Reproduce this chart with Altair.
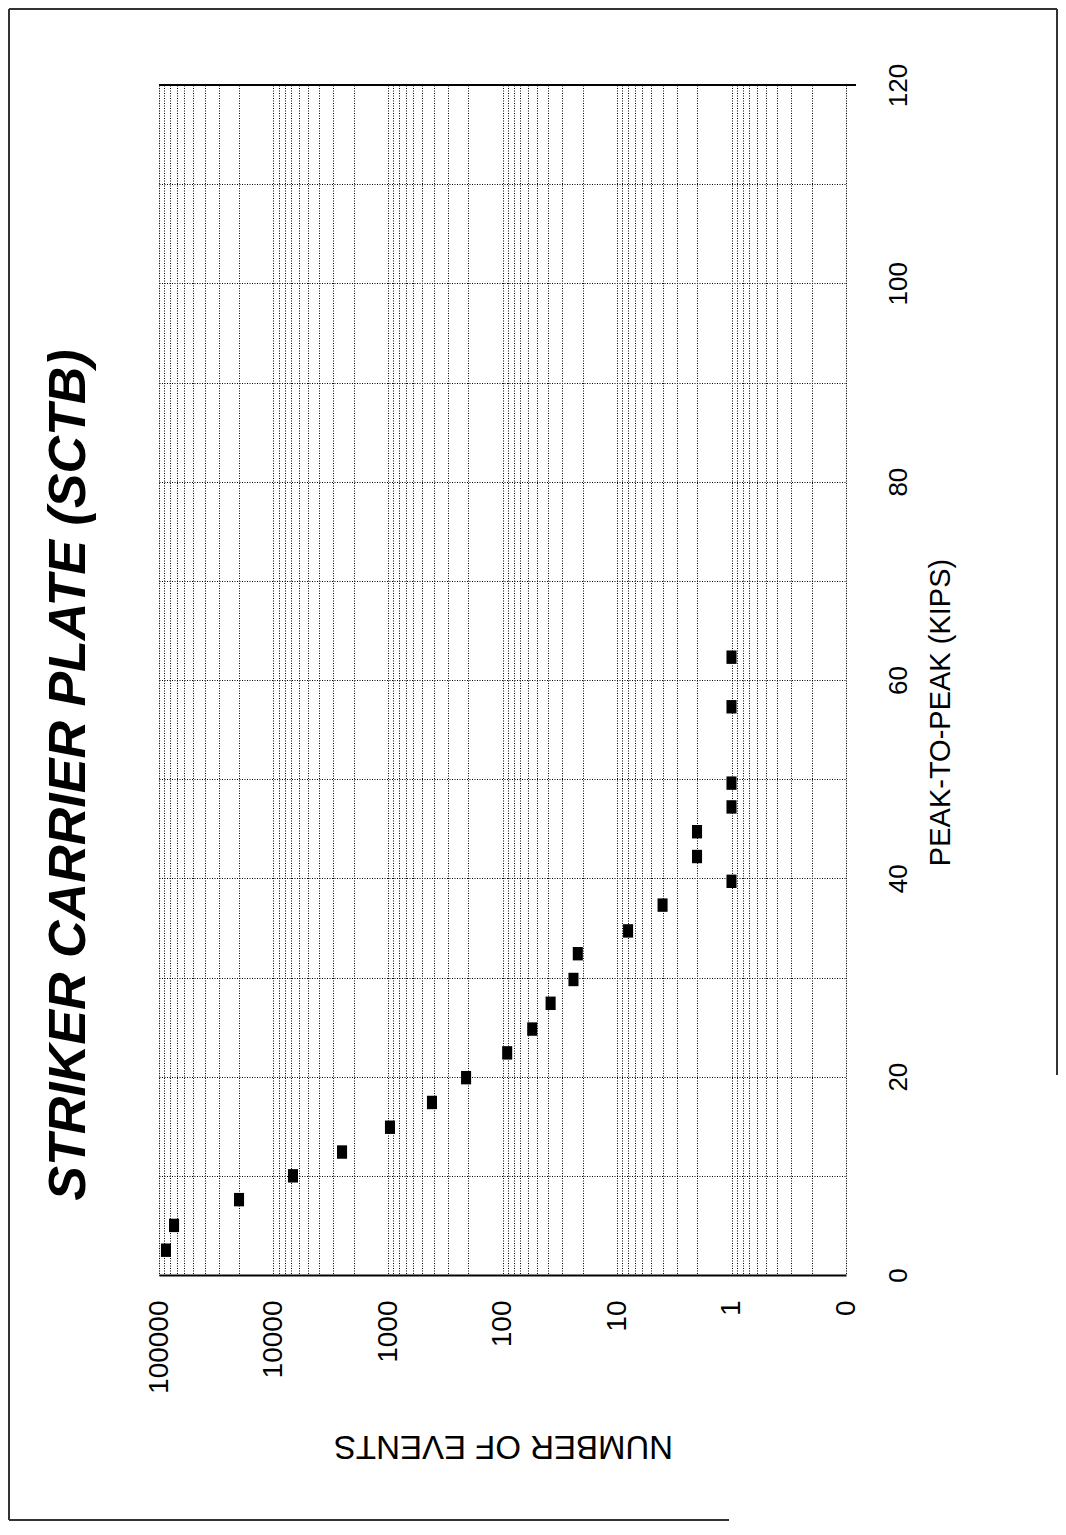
import altair as alt
import pandas as pd

# ---- data ----
peak_kips = [2.5, 5.0, 7.6, 10.0, 12.4, 14.9, 17.4, 19.9, 22.4, 24.8, 27.4,
             29.8, 32.4, 34.7, 37.3, 39.7, 42.2, 44.7, 47.2, 49.6, 57.3, 62.3]
num_events = [86900, 73900, 20000, 6760, 2520, 961, 413, 208, 91, 55, 38,
              24, 22, 8, 4, 1, 2, 2, 1, 1, 1, 1]

event_ticks = [round(k * 10 ** d, 6) for d in range(-1, 5) for k in range(1, 10)] + [100000]
peak_ticks = list(range(0, 121, 10))

chart_title = "STRIKER CARRIER PLATE (SCTB)"
x_title = "PEAK-TO-PEAK (KIPS)"
y_title = "NUMBER OF EVENTS"

W, H = 687, 1190
FONT = "Liberation Sans, Arial"

df = pd.DataFrame({"peak": peak_kips, "events": num_events})

xscale = alt.Scale(type="log", domain=[0.1, 100000], reverse=True, nice=False)
yscale = alt.Scale(domain=[0, 120], nice=False)

x_axis = alt.Axis(
    values=event_ticks,
    labelExpr="(datum.value > 0.05 && datum.value < 0.15) ? '0' : (indexof([1,10,100,1000,10000,100000], datum.value) >= 0 ? format(datum.value, 'd') : '')",
    labelAngle=270, labelAlign="right", labelBaseline="middle", labelPadding=25,
    labelFontSize=28, labelFont=FONT, labelColor="black",
    labelOverlap=False, labelFlush=False,
    ticks=False, domain=True, domainColor="black", domainWidth=2,
    grid=True, gridColor="black", gridDash=[1, 1.5], gridWidth=1, gridOpacity=1,
    title=y_title, titleAngle=180, titleX=344, titleY=170,
    titleAlign="center", titleBaseline="middle", titleFontSize=33,
    titleFontWeight="normal", titleFont=FONT, titleColor="black",
)

y_axis = alt.Axis(
    orient="right", values=peak_ticks,
    labelExpr="datum.value % 20 == 0 ? datum.label : ''",
    labelAngle=270, labelAlign="center", labelBaseline="middle", labelPadding=52,
    labelFontSize=26, labelFont=FONT, labelColor="black",
    labelOverlap=False, labelFlush=False,
    ticks=False, domain=False,
    grid=True, gridColor="black", gridDash=[1, 1.5], gridWidth=1, gridOpacity=1,
    title=x_title, titleAngle=270, titleX=94, titleY=627,
    titleAlign="center", titleBaseline="middle", titleFontSize=29,
    titleFontWeight="normal", titleFont=FONT, titleColor="black",
)

points = alt.Chart(df).mark_point(
    shape="M-0.75,-1H0.75V1H-0.75Z", filled=True, color="black", opacity=1, size=180
).encode(
    x=alt.X("events:Q", scale=xscale, axis=x_axis),
    y=alt.Y("peak:Q", scale=yscale, axis=y_axis),
)

one = alt.Data(values=[{"t": chart_title}])

top_line = alt.Chart(one).mark_rule(color="black", strokeWidth=2).encode(
    x=alt.value(0), x2=alt.value(W + 10), y=alt.value(0)
)

title_text = alt.Chart(one).mark_text(
    angle=270, align="center", baseline="middle", fontSize=52,
    fontWeight="bold", fontStyle="italic", font=FONT, color="black"
).encode(text="t:N", x=alt.value(-90), y=alt.value(690))

border_color = "#333333"
border_l = alt.Chart(one).mark_rule(color=border_color, strokeWidth=2).encode(
    x=alt.value(-150), y=alt.value(-76), y2=alt.value(1435))
border_t = alt.Chart(one).mark_rule(color=border_color, strokeWidth=2).encode(
    x=alt.value(-150), x2=alt.value(898), y=alt.value(-76))
border_r = alt.Chart(one).mark_rule(color=border_color, strokeWidth=2).encode(
    x=alt.value(898), y=alt.value(-76), y2=alt.value(990))
border_b = alt.Chart(one).mark_rule(color=border_color, strokeWidth=2).encode(
    x=alt.value(-150), x2=alt.value(570), y=alt.value(1435))

chart = alt.layer(
    points, top_line, title_text, border_l, border_t, border_r, border_b
).properties(
    width=W, height=H,
    autosize=alt.AutoSizeParams(type="none"),
    padding={"left": 151, "top": 77, "right": 212, "bottom": 248},
).configure_view(stroke=None).configure(background="white")

chart.save("out.html", embed_options={"renderer": "svg", "actions": False})
